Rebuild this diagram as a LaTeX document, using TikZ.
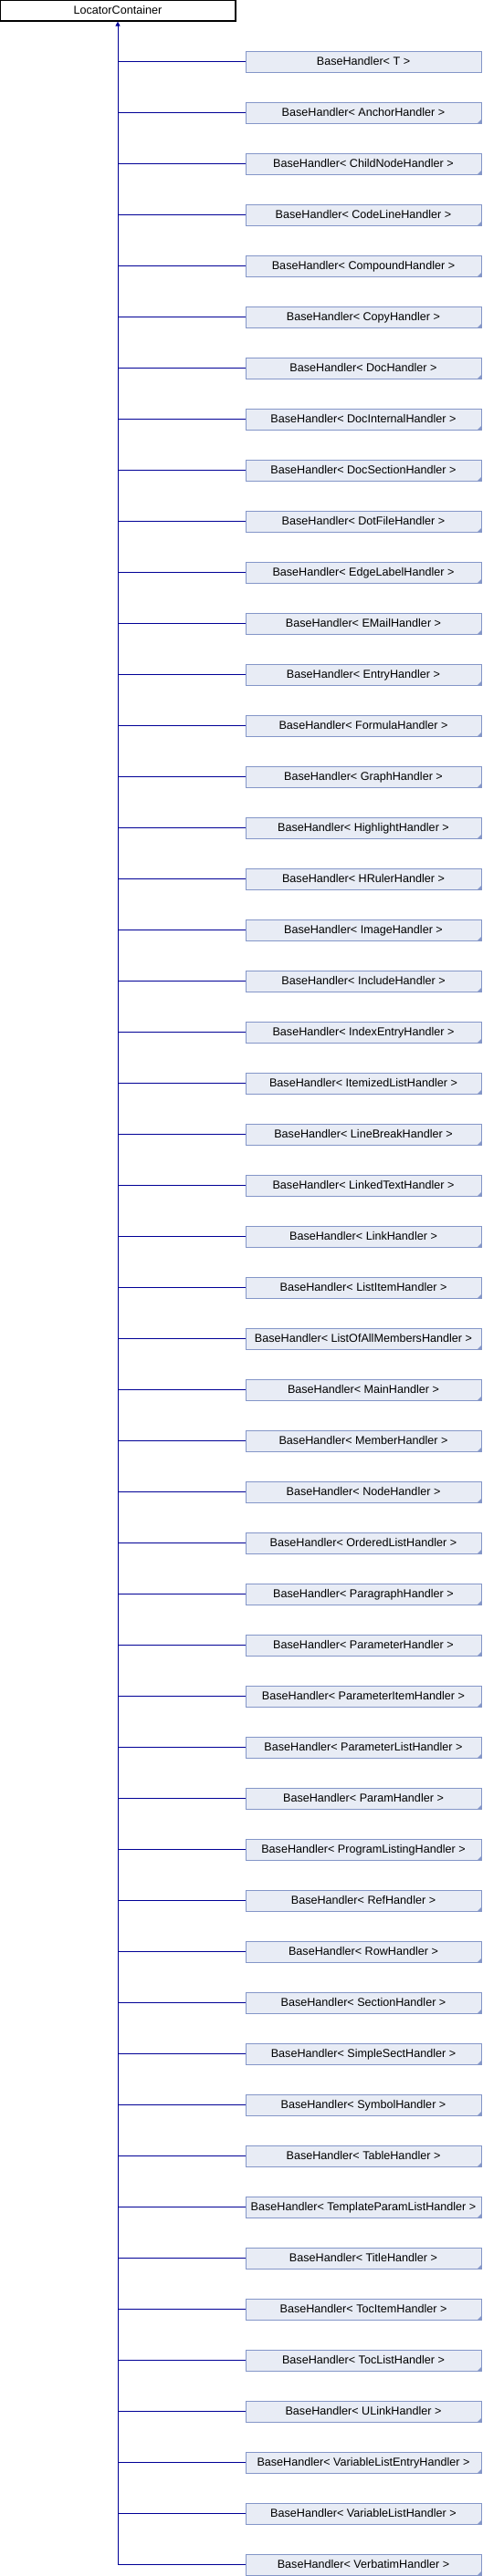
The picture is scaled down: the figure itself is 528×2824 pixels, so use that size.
\documentclass[tikz,border=0pt]{standalone}
\usepackage{fontspec}
\setmainfont{Liberation Sans}
\usetikzlibrary{arrows.meta,calc,positioning}

\definecolor{boxfill}{RGB}{232,236,245}
\definecolor{boxline}{RGB}{132,150,200}
\definecolor{edgeblue}{RGB}{0,0,150}

\tikzset{
  classbox/.style={minimum width=258pt,minimum height=23pt,inner sep=0pt,
    text height=8.5pt,text depth=0pt,font=\fontsize{12.6}{14}\selectfont},
  basebox/.style={classbox,draw=black,line width=1.2pt},
  derivedbox/.style={classbox,draw=boxline,fill=boxfill,line width=1pt},
  inherit/.style={draw=edgeblue,line width=1pt},
}

\begin{document}
\begin{tikzpicture}[x=1pt,y=-1pt]
\useasboundingbox (0,0) rectangle (528,2824);
\node[basebox] (lc) at (129,11.5) {LocatorContainer};
% derived classes
\foreach \name [count=\i] in {T,AnchorHandler,ChildNodeHandler,CodeLineHandler,
  CompoundHandler,CopyHandler,DocHandler,DocInternalHandler,DocSectionHandler,
  DotFileHandler,EdgeLabelHandler,EMailHandler,EntryHandler,FormulaHandler,
  GraphHandler,HighlightHandler,HRulerHandler,ImageHandler,IncludeHandler,
  IndexEntryHandler,ItemizedListHandler,LineBreakHandler,LinkedTextHandler,
  LinkHandler,ListItemHandler,ListOfAllMembersHandler,MainHandler,MemberHandler,
  NodeHandler,OrderedListHandler,ParagraphHandler,ParameterHandler,
  ParameterItemHandler,ParameterListHandler,ParamHandler,ProgramListingHandler,
  RefHandler,RowHandler,SectionHandler,SimpleSectHandler,SymbolHandler,
  TableHandler,TemplateParamListHandler,TitleHandler,TocItemHandler,
  TocListHandler,ULinkHandler,VariableListEntryHandler,VariableListHandler,
  VerbatimHandler} {
  \node[derivedbox] (c\i) at (398,56*\i+11.5) {BaseHandler<~\name~>};
  \ifnum\i>1
    \fill[boxline] (c\i.south east) -- ++(-5,0) -- ++(5,-5) -- cycle;
  \fi
  \draw[inherit] (c\i.west -| lc.south) -- (c\i.west);
}
\draw[inherit,-{Triangle[width=5pt,length=5pt]}] (c50.west -| lc.south) -- (lc.south);
\end{tikzpicture}
\end{document}
